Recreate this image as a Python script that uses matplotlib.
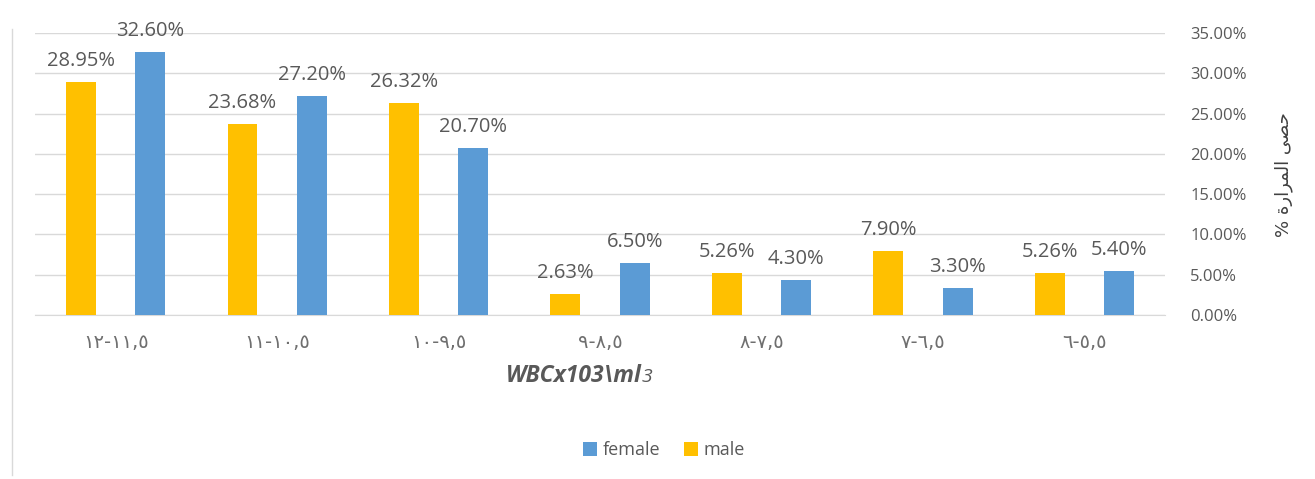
import matplotlib.pyplot as plt
import numpy as np
from matplotlib.lines import Line2D
from matplotlib.ticker import PercentFormatter

# WBC ranges (x10^3 per ml), Arabic-Indic digits, left to right
ranges = ["١٢-١١,٥", "١١-١٠,٥", "١٠-٩,٥", "٩-٨,٥", "٨-٧,٥", "٧-٦,٥", "٦-٥,٥"]
male = [28.95, 23.68, 26.32, 2.63, 5.26, 7.90, 5.26]
female = [32.60, 27.20, 20.70, 6.50, 4.30, 3.30, 5.40]

# gallstones % (pre-shaped glyphs, visual order)
ylabel_txt = "% ﺓﺭﺍﺮﻤﻟﺍ ﻰﺼﺣ"

MALE_C = "#FFC000"
FEMALE_C = "#5B9BD5"
TXT = "#595959"

plt.rcParams["font.family"] = ["Open Sans", "DejaVu Sans"]

fig = plt.figure(figsize=(13.15, 4.79), dpi=100)
ax = fig.add_axes([0.0266, 0.3424, 0.8594, 0.5887])

x = np.arange(len(ranges))
w = 0.185
b_m = ax.bar(x - 0.215, male, w, color=MALE_C, label="male", zorder=3)
b_f = ax.bar(x + 0.215, female, w, color=FEMALE_C, label="female", zorder=3)

for bars in (b_m, b_f):
    for r in bars:
        h = r.get_height()
        ax.annotate(f"{h:.2f}%", xy=(r.get_x() + r.get_width() / 2, h),
                    xytext=(0, 8), textcoords="offset points",
                    ha="center", va="bottom", fontsize=14.5, color=TXT)

ax.set_xlim(-0.5, len(ranges) - 0.5)
ax.set_ylim(0, 35)
ax.set_yticks(np.arange(0, 36, 5))
ax.yaxis.set_major_formatter(PercentFormatter(decimals=2))
ax.yaxis.tick_right()
ax.tick_params(axis="y", length=0, pad=18, labelsize=12, labelcolor=TXT)
ax.set_xticks(x)
ax.set_xticklabels(ranges, family=["DejaVu Sans"])
ax.tick_params(axis="x", length=0, pad=13, labelsize=14, labelcolor="#6F6F6F")

ax.grid(axis="y", color="#D9D9D9", linewidth=1, zorder=0)
for s in ("top", "left", "right"):
    ax.spines[s].set_visible(False)
ax.spines["bottom"].set_color("#D9D9D9")

fig.text(0.976, 0.635, ylabel_txt, rotation=90, ha="center", va="center",
         fontsize=13, color="#404040", family=["DejaVu Sans"])

# axis title with small trailing 3
t = fig.text(0.385, 0.215, "WBCx103\\ml", ha="left", va="center",
             fontsize=16.5, style="italic", weight="bold", color=TXT)
ax.annotate("3", xy=(1, 0.1), xycoords=t, ha="left", va="bottom",
            fontsize=14, style="italic", color=TXT)

handles = [b_f, b_m]
fig.legend(handles, ["female", "male"], loc="center", bbox_to_anchor=(0.505, 0.06),
           ncol=2, frameon=False, fontsize=13, labelcolor=TXT,
           handlelength=0.8, handleheight=0.8, handletextpad=0.3, columnspacing=1.3)

# chart-area border on the left
fig.add_artist(Line2D([0.009, 0.009], [0.008, 0.94], color="#D9D9D9", linewidth=1,
                      transform=fig.transFigure))

fig.savefig("out.png", dpi=100)
